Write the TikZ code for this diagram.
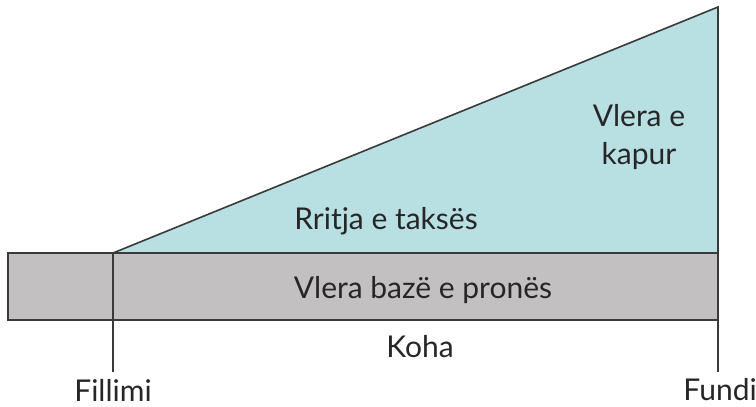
\documentclass[tikz,border=0pt]{standalone}
\usepackage{fontspec}
\setmainfont{Lato}
\definecolor{lblue}{HTML}{B8DFE2}
\definecolor{lgray}{HTML}{C2C0C1}
\definecolor{edge}{HTML}{3A3A3A}
\begin{document}
\begin{tikzpicture}[x=1pt,y=-1pt,
  outl/.style={draw=edge,line width=1.6pt,line join=miter},
  lbl/.style={font=\fontsize{30}{34}\selectfont,text=black!85,inner sep=0pt}]
\useasboundingbox (0,0) rectangle (756,407);
\coordinate (bl) at (8,253);
\coordinate (tr) at (718,320);
\coordinate (s) at (113,253);
\coordinate (top) at (718,7);
\coordinate (rb) at (718,253);
\coordinate (sb) at (113,372);
\coordinate (eb) at (718,372);
\fill[lgray] (bl) rectangle (tr);
\fill[lblue] (s) -- (top) -- (rb) -- cycle;
\draw[outl] (s) -- (top) -- (rb);
\draw[outl] (bl) rectangle (tr);
\draw[outl] (s) -- (sb);
\draw[outl] (top) -- (eb);
\node[lbl] (kap) at (639,139) {\begin{tabular}{@{}c@{}}Vlera e\\[4pt] kapur\end{tabular}};
\node[lbl] (rr) at (386,221) {Rritja e taksës};
\node[lbl] (base) at (423,290) {Vlera bazë e pronës};
\node[lbl] (koha) at (420,347) {Koha};
\node[lbl] (fil) at (113,390) {Fillimi};
\node[lbl,anchor=east] (fun) at (757,390) {Fundi};
\end{tikzpicture}
\end{document}
